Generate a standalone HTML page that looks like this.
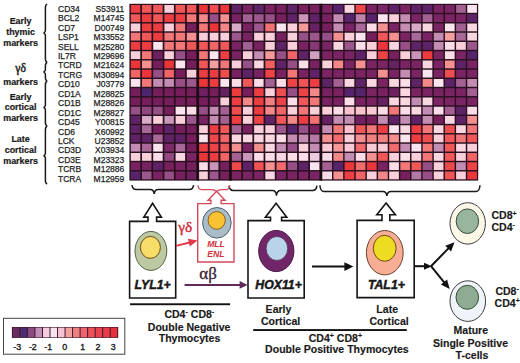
<!DOCTYPE html>
<html><head><meta charset="utf-8"><style>
html,body{margin:0;padding:0;background:#fff;}
body{width:520px;height:363px;overflow:hidden;}
svg{display:block;}
text{font-family:"Liberation Sans",sans-serif;fill:#1a1a1a;}
.g{font-size:8.5px;stroke:#2a2a2a;stroke-width:0.25px;}
.gb{font-size:8.95px;font-weight:bold;stroke:#1a1a1a;stroke-width:0.2px;}
.gr{font-family:"Liberation Serif",serif;font-size:11.6px;stroke:#1a1a1a;stroke-width:0.45px;}
.gk{font-family:"Liberation Serif",serif;font-size:15.3px;stroke:#d02838;stroke-width:0.4px;}
.gk2{font-family:"Liberation Serif",serif;font-size:17px;stroke:#3a1a38;stroke-width:0.3px;}
.bi{font-size:12.3px;font-weight:bold;font-style:italic;stroke:#111;stroke-width:0.45px;}
.ri{font-size:8.6px;font-weight:bold;font-style:italic;fill:#d03040;}
.lb{font-size:10.55px;font-weight:bold;stroke:#1a1a1a;stroke-width:0.15px;}
.sup{font-size:7px;}
.lg{font-size:8.8px;stroke:#1a1a1a;stroke-width:0.35px;}
.br{fill:none;stroke:#1a1a1a;stroke-width:1.5;}
.rbr{fill:none;stroke:#d84856;stroke-width:1.3;}
.bx{fill:#fff;stroke:#151515;stroke-width:1.6;}
.rbx{fill:#fff;stroke:#d24a58;stroke-width:1.4;}
</style></head><body><svg width="520" height="363" viewBox="0 0 520 363">
<text x="58" y="11.80" class="g">CD34</text>
<text x="124.3" y="11.80" class="g" text-anchor="end">S53911</text>
<text x="58" y="21.24" class="g">BCL2</text>
<text x="124.3" y="21.24" class="g" text-anchor="end">M14745</text>
<text x="58" y="30.68" class="g">CD7</text>
<text x="124.3" y="30.68" class="g" text-anchor="end">D00749</text>
<text x="58" y="40.12" class="g">LSP1</text>
<text x="124.3" y="40.12" class="g" text-anchor="end">M33552</text>
<text x="58" y="49.56" class="g">SELL</text>
<text x="124.3" y="49.56" class="g" text-anchor="end">M25280</text>
<text x="58" y="59.00" class="g">IL7R</text>
<text x="124.3" y="59.00" class="g" text-anchor="end">M29696</text>
<text x="58" y="68.44" class="g">TCRD</text>
<text x="124.3" y="68.44" class="g" text-anchor="end">M21624</text>
<text x="58" y="77.88" class="g">TCRG</text>
<text x="124.3" y="77.88" class="g" text-anchor="end">M30894</text>
<text x="58" y="87.32" class="g">CD10</text>
<text x="124.3" y="87.32" class="g" text-anchor="end">J03779</text>
<text x="58" y="96.76" class="g">CD1A</text>
<text x="124.3" y="96.76" class="g" text-anchor="end">M28825</text>
<text x="58" y="106.20" class="g">CD1B</text>
<text x="124.3" y="106.20" class="g" text-anchor="end">M28826</text>
<text x="58" y="115.64" class="g">CD1C</text>
<text x="124.3" y="115.64" class="g" text-anchor="end">M28827</text>
<text x="58" y="125.08" class="g">CD45</text>
<text x="124.3" y="125.08" class="g" text-anchor="end">Y00815</text>
<text x="58" y="134.52" class="g">CD6</text>
<text x="124.3" y="134.52" class="g" text-anchor="end">X60992</text>
<text x="58" y="143.96" class="g">LCK</text>
<text x="124.3" y="143.96" class="g" text-anchor="end">U23852</text>
<text x="58" y="153.40" class="g">CD3D</text>
<text x="124.3" y="153.40" class="g" text-anchor="end">X03934</text>
<text x="58" y="162.84" class="g">CD3E</text>
<text x="124.3" y="162.84" class="g" text-anchor="end">M23323</text>
<text x="58" y="172.28" class="g">TCRB</text>
<text x="124.3" y="172.28" class="g" text-anchor="end">M12886</text>
<text x="58" y="181.72" class="g">TCRA</text>
<text x="124.3" y="181.72" class="g" text-anchor="end">M12959</text>
<text x="20.6" y="24.30" class="gb" text-anchor="middle">Early</text>
<text x="20.6" y="34.80" class="gb" text-anchor="middle">thymic</text>
<text x="20.6" y="45.60" class="gb" text-anchor="middle">markers</text>
<text x="20.6" y="85.40" class="gb" text-anchor="middle">markers</text>
<text x="20.6" y="99.70" class="gb" text-anchor="middle">Early</text>
<text x="20.6" y="110.30" class="gb" text-anchor="middle">cortical</text>
<text x="20.6" y="120.70" class="gb" text-anchor="middle">markers</text>
<text x="20.6" y="142.20" class="gb" text-anchor="middle">Late</text>
<text x="20.6" y="153.00" class="gb" text-anchor="middle">cortical</text>
<text x="20.6" y="163.60" class="gb" text-anchor="middle">markers</text>
<text x="20.6" y="71.6" class="gr" text-anchor="middle">&#947;&#948;</text>
<path d="M 47.2 4.1 C 45.4 4.6 45.4 6.1 45.4 7.6 L 45.4 30.5 C 45.4 32.0 43.9 33.0 43.4 33.0 C 43.9 33.0 45.4 34.0 45.4 35.5 L 45.4 58.7 C 45.4 60.2 45.4 61.7 47.2 62.2" class="br"/>
<path d="M 47.2 62.5 C 45.4 63.0 45.4 64.5 45.4 66.0 L 45.4 69.5 C 45.4 71.0 43.9 72.0 43.4 72.0 C 43.9 72.0 45.4 73.0 45.4 74.5 L 45.4 77.5 C 45.4 79.0 45.4 80.5 47.2 81.0" class="br"/>
<path d="M 47.2 81.2 C 45.4 81.7 45.4 83.2 45.4 84.7 L 45.4 105.1 C 45.4 106.6 43.9 107.6 43.4 107.6 C 43.9 107.6 45.4 108.6 45.4 110.1 L 45.4 122.5 C 45.4 124.0 45.4 125.5 47.2 126.0" class="br"/>
<path d="M 47.2 126.2 C 45.4 126.7 45.4 128.2 45.4 129.7 L 45.4 153.2 C 45.4 154.7 43.9 155.7 43.4 155.7 C 43.9 155.7 45.4 156.7 45.4 158.2 L 45.4 180.4 C 45.4 181.9 45.4 183.4 47.2 183.9" class="br"/>
<rect x="129.4" y="3.8" width="348.8" height="176.8" fill="#2a1020"/>
<rect x="196.30" y="3.8" width="2.80" height="176.8" fill="#1c0c14"/>
<rect x="229.00" y="3.8" width="2.80" height="176.8" fill="#1c0c14"/>
<rect x="319.40" y="3.8" width="2.90" height="176.8" fill="#1c0c14"/>
<rect x="130.80" y="5.00" width="9.50" height="7.80" fill="#ec3e40"/>
<rect x="142.00" y="5.00" width="9.50" height="7.80" fill="#f05858"/>
<rect x="153.20" y="5.00" width="9.50" height="7.80" fill="#f05858"/>
<rect x="164.40" y="5.00" width="9.50" height="7.80" fill="#f9d0da"/>
<rect x="175.60" y="5.00" width="9.50" height="7.80" fill="#f05858"/>
<rect x="186.80" y="5.00" width="9.50" height="7.80" fill="#f05858"/>
<rect x="130.80" y="14.25" width="9.50" height="7.80" fill="#f05858"/>
<rect x="142.00" y="14.25" width="9.50" height="7.80" fill="#ec3e40"/>
<rect x="153.20" y="14.25" width="9.50" height="7.80" fill="#f05858"/>
<rect x="164.40" y="14.25" width="9.50" height="7.80" fill="#ec3e40"/>
<rect x="175.60" y="14.25" width="9.50" height="7.80" fill="#ec3e40"/>
<rect x="186.80" y="14.25" width="9.50" height="7.80" fill="#f27878"/>
<rect x="130.80" y="23.50" width="9.50" height="7.80" fill="#f9d0da"/>
<rect x="142.00" y="23.50" width="9.50" height="7.80" fill="#ec3e40"/>
<rect x="153.20" y="23.50" width="9.50" height="7.80" fill="#ec3e40"/>
<rect x="164.40" y="23.50" width="9.50" height="7.80" fill="#f9d0da"/>
<rect x="175.60" y="23.50" width="9.50" height="7.80" fill="#f27878"/>
<rect x="186.80" y="23.50" width="9.50" height="7.80" fill="#761e5c"/>
<rect x="130.80" y="32.75" width="9.50" height="7.80" fill="#f27878"/>
<rect x="142.00" y="32.75" width="9.50" height="7.80" fill="#f05858"/>
<rect x="153.20" y="32.75" width="9.50" height="7.80" fill="#ec3e40"/>
<rect x="164.40" y="32.75" width="9.50" height="7.80" fill="#f27878"/>
<rect x="175.60" y="32.75" width="9.50" height="7.80" fill="#f27878"/>
<rect x="186.80" y="32.75" width="9.50" height="7.80" fill="#f49090"/>
<rect x="130.80" y="42.00" width="9.50" height="7.80" fill="#ec3e40"/>
<rect x="142.00" y="42.00" width="9.50" height="7.80" fill="#ec3e40"/>
<rect x="153.20" y="42.00" width="9.50" height="7.80" fill="#fae4ee"/>
<rect x="164.40" y="42.00" width="9.50" height="7.80" fill="#f27878"/>
<rect x="175.60" y="42.00" width="9.50" height="7.80" fill="#f27878"/>
<rect x="186.80" y="42.00" width="9.50" height="7.80" fill="#f05858"/>
<rect x="130.80" y="51.25" width="9.50" height="7.80" fill="#f9d0da"/>
<rect x="142.00" y="51.25" width="9.50" height="7.80" fill="#f27878"/>
<rect x="153.20" y="51.25" width="9.50" height="7.80" fill="#6e2060"/>
<rect x="164.40" y="51.25" width="9.50" height="7.80" fill="#f9d0da"/>
<rect x="175.60" y="51.25" width="9.50" height="7.80" fill="#965087"/>
<rect x="186.80" y="51.25" width="9.50" height="7.80" fill="#761e5c"/>
<rect x="130.80" y="60.50" width="9.50" height="7.80" fill="#ea3638"/>
<rect x="142.00" y="60.50" width="9.50" height="7.80" fill="#f49090"/>
<rect x="153.20" y="60.50" width="9.50" height="7.80" fill="#761e5c"/>
<rect x="164.40" y="60.50" width="9.50" height="7.80" fill="#ea3638"/>
<rect x="175.60" y="60.50" width="9.50" height="7.80" fill="#fae4ee"/>
<rect x="186.80" y="60.50" width="9.50" height="7.80" fill="#761e5c"/>
<rect x="130.80" y="69.75" width="9.50" height="7.80" fill="#f16565"/>
<rect x="142.00" y="69.75" width="9.50" height="7.80" fill="#ea3638"/>
<rect x="153.20" y="69.75" width="9.50" height="7.80" fill="#965087"/>
<rect x="164.40" y="69.75" width="9.50" height="7.80" fill="#f16565"/>
<rect x="175.60" y="69.75" width="9.50" height="7.80" fill="#761e5c"/>
<rect x="186.80" y="69.75" width="9.50" height="7.80" fill="#f9d0da"/>
<rect x="130.80" y="79.00" width="9.50" height="7.80" fill="#fae4ee"/>
<rect x="142.00" y="79.00" width="9.50" height="7.80" fill="#f27878"/>
<rect x="153.20" y="79.00" width="9.50" height="7.80" fill="#c28cb3"/>
<rect x="164.40" y="79.00" width="9.50" height="7.80" fill="#c28cb3"/>
<rect x="175.60" y="79.00" width="9.50" height="7.80" fill="#965087"/>
<rect x="186.80" y="79.00" width="9.50" height="7.80" fill="#9c588d"/>
<rect x="130.80" y="88.25" width="9.50" height="7.80" fill="#761e5c"/>
<rect x="142.00" y="88.25" width="9.50" height="7.80" fill="#4e266e"/>
<rect x="153.20" y="88.25" width="9.50" height="7.80" fill="#761e5c"/>
<rect x="164.40" y="88.25" width="9.50" height="7.80" fill="#761e5c"/>
<rect x="175.60" y="88.25" width="9.50" height="7.80" fill="#761e5c"/>
<rect x="186.80" y="88.25" width="9.50" height="7.80" fill="#761e5c"/>
<rect x="130.80" y="97.50" width="9.50" height="7.80" fill="#761e5c"/>
<rect x="142.00" y="97.50" width="9.50" height="7.80" fill="#761e5c"/>
<rect x="153.20" y="97.50" width="9.50" height="7.80" fill="#761e5c"/>
<rect x="164.40" y="97.50" width="9.50" height="7.80" fill="#761e5c"/>
<rect x="175.60" y="97.50" width="9.50" height="7.80" fill="#761e5c"/>
<rect x="186.80" y="97.50" width="9.50" height="7.80" fill="#761e5c"/>
<rect x="130.80" y="106.75" width="9.50" height="7.80" fill="#965087"/>
<rect x="142.00" y="106.75" width="9.50" height="7.80" fill="#914881"/>
<rect x="153.20" y="106.75" width="9.50" height="7.80" fill="#965087"/>
<rect x="164.40" y="106.75" width="9.50" height="7.80" fill="#761e5c"/>
<rect x="175.60" y="106.75" width="9.50" height="7.80" fill="#fae4ee"/>
<rect x="186.80" y="106.75" width="9.50" height="7.80" fill="#fadde7"/>
<rect x="130.80" y="116.00" width="9.50" height="7.80" fill="#5e2367"/>
<rect x="142.00" y="116.00" width="9.50" height="7.80" fill="#d7aac8"/>
<rect x="153.20" y="116.00" width="9.50" height="7.80" fill="#f9d0da"/>
<rect x="164.40" y="116.00" width="9.50" height="7.80" fill="#c996ba"/>
<rect x="175.60" y="116.00" width="9.50" height="7.80" fill="#f9d0da"/>
<rect x="186.80" y="116.00" width="9.50" height="7.80" fill="#9c588d"/>
<rect x="130.80" y="125.25" width="9.50" height="7.80" fill="#5e2367"/>
<rect x="142.00" y="125.25" width="9.50" height="7.80" fill="#a86899"/>
<rect x="153.20" y="125.25" width="9.50" height="7.80" fill="#761e5c"/>
<rect x="164.40" y="125.25" width="9.50" height="7.80" fill="#5e2367"/>
<rect x="175.60" y="125.25" width="9.50" height="7.80" fill="#761e5c"/>
<rect x="186.80" y="125.25" width="9.50" height="7.80" fill="#761e5c"/>
<rect x="130.80" y="134.50" width="9.50" height="7.80" fill="#5e2367"/>
<rect x="142.00" y="134.50" width="9.50" height="7.80" fill="#5e2367"/>
<rect x="153.20" y="134.50" width="9.50" height="7.80" fill="#a86899"/>
<rect x="164.40" y="134.50" width="9.50" height="7.80" fill="#5e2367"/>
<rect x="175.60" y="134.50" width="9.50" height="7.80" fill="#5e2367"/>
<rect x="186.80" y="134.50" width="9.50" height="7.80" fill="#761e5c"/>
<rect x="130.80" y="143.75" width="9.50" height="7.80" fill="#c28cb3"/>
<rect x="142.00" y="143.75" width="9.50" height="7.80" fill="#a86899"/>
<rect x="153.20" y="143.75" width="9.50" height="7.80" fill="#fae4ee"/>
<rect x="164.40" y="143.75" width="9.50" height="7.80" fill="#7c2868"/>
<rect x="175.60" y="143.75" width="9.50" height="7.80" fill="#a86899"/>
<rect x="186.80" y="143.75" width="9.50" height="7.80" fill="#761e5c"/>
<rect x="130.80" y="153.00" width="9.50" height="7.80" fill="#f9d0da"/>
<rect x="142.00" y="153.00" width="9.50" height="7.80" fill="#f9d0da"/>
<rect x="153.20" y="153.00" width="9.50" height="7.80" fill="#fadde7"/>
<rect x="164.40" y="153.00" width="9.50" height="7.80" fill="#914881"/>
<rect x="175.60" y="153.00" width="9.50" height="7.80" fill="#f9d7e1"/>
<rect x="186.80" y="153.00" width="9.50" height="7.80" fill="#7a2463"/>
<rect x="130.80" y="162.25" width="9.50" height="7.80" fill="#782261"/>
<rect x="142.00" y="162.25" width="9.50" height="7.80" fill="#782261"/>
<rect x="153.20" y="162.25" width="9.50" height="7.80" fill="#5e2367"/>
<rect x="164.40" y="162.25" width="9.50" height="7.80" fill="#77205e"/>
<rect x="175.60" y="162.25" width="9.50" height="7.80" fill="#782261"/>
<rect x="186.80" y="162.25" width="9.50" height="7.80" fill="#77205e"/>
<rect x="130.80" y="171.50" width="9.50" height="7.80" fill="#56246a"/>
<rect x="142.00" y="171.50" width="9.50" height="7.80" fill="#9c588d"/>
<rect x="153.20" y="171.50" width="9.50" height="7.80" fill="#782261"/>
<rect x="164.40" y="171.50" width="9.50" height="7.80" fill="#965087"/>
<rect x="175.60" y="171.50" width="9.50" height="7.80" fill="#77205e"/>
<rect x="186.80" y="171.50" width="9.50" height="7.80" fill="#6e2060"/>
<rect x="199.10" y="5.00" width="8.70" height="7.80" fill="#ea3638"/>
<rect x="209.75" y="5.00" width="8.70" height="7.80" fill="#ee4e4e"/>
<rect x="220.40" y="5.00" width="8.70" height="7.80" fill="#ea3638"/>
<rect x="199.10" y="14.25" width="8.70" height="7.80" fill="#f38888"/>
<rect x="209.75" y="14.25" width="8.70" height="7.80" fill="#965087"/>
<rect x="220.40" y="14.25" width="8.70" height="7.80" fill="#f49090"/>
<rect x="199.10" y="23.50" width="8.70" height="7.80" fill="#f27878"/>
<rect x="209.75" y="23.50" width="8.70" height="7.80" fill="#ea3638"/>
<rect x="220.40" y="23.50" width="8.70" height="7.80" fill="#f38888"/>
<rect x="199.10" y="32.75" width="8.70" height="7.80" fill="#f9d0da"/>
<rect x="209.75" y="32.75" width="8.70" height="7.80" fill="#f9d0da"/>
<rect x="220.40" y="32.75" width="8.70" height="7.80" fill="#f9d0da"/>
<rect x="199.10" y="42.00" width="8.70" height="7.80" fill="#f05858"/>
<rect x="209.75" y="42.00" width="8.70" height="7.80" fill="#f16565"/>
<rect x="220.40" y="42.00" width="8.70" height="7.80" fill="#f05858"/>
<rect x="199.10" y="51.25" width="8.70" height="7.80" fill="#f27878"/>
<rect x="209.75" y="51.25" width="8.70" height="7.80" fill="#fae4ee"/>
<rect x="220.40" y="51.25" width="8.70" height="7.80" fill="#ec3e40"/>
<rect x="199.10" y="60.50" width="8.70" height="7.80" fill="#f05858"/>
<rect x="209.75" y="60.50" width="8.70" height="7.80" fill="#f5a0a0"/>
<rect x="220.40" y="60.50" width="8.70" height="7.80" fill="#f27878"/>
<rect x="199.10" y="69.75" width="8.70" height="7.80" fill="#ec3e40"/>
<rect x="209.75" y="69.75" width="8.70" height="7.80" fill="#ec3e40"/>
<rect x="220.40" y="69.75" width="8.70" height="7.80" fill="#ee4e4e"/>
<rect x="199.10" y="79.00" width="8.70" height="7.80" fill="#ea3638"/>
<rect x="209.75" y="79.00" width="8.70" height="7.80" fill="#ec3e40"/>
<rect x="220.40" y="79.00" width="8.70" height="7.80" fill="#fae4ee"/>
<rect x="199.10" y="88.25" width="8.70" height="7.80" fill="#6e2060"/>
<rect x="209.75" y="88.25" width="8.70" height="7.80" fill="#761e5c"/>
<rect x="220.40" y="88.25" width="8.70" height="7.80" fill="#662163"/>
<rect x="199.10" y="97.50" width="8.70" height="7.80" fill="#761e5c"/>
<rect x="209.75" y="97.50" width="8.70" height="7.80" fill="#761e5c"/>
<rect x="220.40" y="97.50" width="8.70" height="7.80" fill="#f9d0da"/>
<rect x="199.10" y="106.75" width="8.70" height="7.80" fill="#965087"/>
<rect x="209.75" y="106.75" width="8.70" height="7.80" fill="#c28cb3"/>
<rect x="220.40" y="106.75" width="8.70" height="7.80" fill="#a26093"/>
<rect x="199.10" y="116.00" width="8.70" height="7.80" fill="#782261"/>
<rect x="209.75" y="116.00" width="8.70" height="7.80" fill="#c28cb3"/>
<rect x="220.40" y="116.00" width="8.70" height="7.80" fill="#a26093"/>
<rect x="199.10" y="125.25" width="8.70" height="7.80" fill="#f9d0da"/>
<rect x="209.75" y="125.25" width="8.70" height="7.80" fill="#ec3e40"/>
<rect x="220.40" y="125.25" width="8.70" height="7.80" fill="#f05858"/>
<rect x="199.10" y="134.50" width="8.70" height="7.80" fill="#fae4ee"/>
<rect x="209.75" y="134.50" width="8.70" height="7.80" fill="#ee484a"/>
<rect x="220.40" y="134.50" width="8.70" height="7.80" fill="#f16565"/>
<rect x="199.10" y="143.75" width="8.70" height="7.80" fill="#ec3e40"/>
<rect x="209.75" y="143.75" width="8.70" height="7.80" fill="#ed4345"/>
<rect x="220.40" y="143.75" width="8.70" height="7.80" fill="#f05858"/>
<rect x="199.10" y="153.00" width="8.70" height="7.80" fill="#ea383a"/>
<rect x="209.75" y="153.00" width="8.70" height="7.80" fill="#ec3e40"/>
<rect x="220.40" y="153.00" width="8.70" height="7.80" fill="#f16565"/>
<rect x="199.10" y="162.25" width="8.70" height="7.80" fill="#fadde7"/>
<rect x="209.75" y="162.25" width="8.70" height="7.80" fill="#c996ba"/>
<rect x="220.40" y="162.25" width="8.70" height="7.80" fill="#77205e"/>
<rect x="199.10" y="171.50" width="8.70" height="7.80" fill="#f9d0da"/>
<rect x="209.75" y="171.50" width="8.70" height="7.80" fill="#9c588d"/>
<rect x="220.40" y="171.50" width="8.70" height="7.80" fill="#77205e"/>
<rect x="231.80" y="5.00" width="9.45" height="7.80" fill="#5e2367"/>
<rect x="242.97" y="5.00" width="9.45" height="7.80" fill="#782261"/>
<rect x="254.14" y="5.00" width="9.45" height="7.80" fill="#5e2367"/>
<rect x="265.31" y="5.00" width="9.45" height="7.80" fill="#782261"/>
<rect x="276.48" y="5.00" width="9.45" height="7.80" fill="#77205e"/>
<rect x="287.65" y="5.00" width="9.45" height="7.80" fill="#5e2367"/>
<rect x="298.82" y="5.00" width="9.45" height="7.80" fill="#77205e"/>
<rect x="309.99" y="5.00" width="9.45" height="7.80" fill="#77205e"/>
<rect x="231.80" y="14.25" width="9.45" height="7.80" fill="#782261"/>
<rect x="242.97" y="14.25" width="9.45" height="7.80" fill="#a26093"/>
<rect x="254.14" y="14.25" width="9.45" height="7.80" fill="#9c588d"/>
<rect x="265.31" y="14.25" width="9.45" height="7.80" fill="#965087"/>
<rect x="276.48" y="14.25" width="9.45" height="7.80" fill="#77205e"/>
<rect x="287.65" y="14.25" width="9.45" height="7.80" fill="#5e2367"/>
<rect x="298.82" y="14.25" width="9.45" height="7.80" fill="#c996ba"/>
<rect x="309.99" y="14.25" width="9.45" height="7.80" fill="#5e2367"/>
<rect x="231.80" y="23.50" width="9.45" height="7.80" fill="#d7aac8"/>
<rect x="242.97" y="23.50" width="9.45" height="7.80" fill="#782261"/>
<rect x="254.14" y="23.50" width="9.45" height="7.80" fill="#9c588d"/>
<rect x="265.31" y="23.50" width="9.45" height="7.80" fill="#f27272"/>
<rect x="276.48" y="23.50" width="9.45" height="7.80" fill="#fae4ee"/>
<rect x="287.65" y="23.50" width="9.45" height="7.80" fill="#f9d0da"/>
<rect x="298.82" y="23.50" width="9.45" height="7.80" fill="#f49898"/>
<rect x="309.99" y="23.50" width="9.45" height="7.80" fill="#662163"/>
<rect x="231.80" y="32.75" width="9.45" height="7.80" fill="#9c588d"/>
<rect x="242.97" y="32.75" width="9.45" height="7.80" fill="#782261"/>
<rect x="254.14" y="32.75" width="9.45" height="7.80" fill="#f9d0da"/>
<rect x="265.31" y="32.75" width="9.45" height="7.80" fill="#f9d0da"/>
<rect x="276.48" y="32.75" width="9.45" height="7.80" fill="#77205e"/>
<rect x="287.65" y="32.75" width="9.45" height="7.80" fill="#f9d0da"/>
<rect x="298.82" y="32.75" width="9.45" height="7.80" fill="#965087"/>
<rect x="309.99" y="32.75" width="9.45" height="7.80" fill="#9c588d"/>
<rect x="231.80" y="42.00" width="9.45" height="7.80" fill="#782261"/>
<rect x="242.97" y="42.00" width="9.45" height="7.80" fill="#a26093"/>
<rect x="254.14" y="42.00" width="9.45" height="7.80" fill="#782261"/>
<rect x="265.31" y="42.00" width="9.45" height="7.80" fill="#f9d0da"/>
<rect x="276.48" y="42.00" width="9.45" height="7.80" fill="#5e2367"/>
<rect x="287.65" y="42.00" width="9.45" height="7.80" fill="#f9d0da"/>
<rect x="298.82" y="42.00" width="9.45" height="7.80" fill="#782261"/>
<rect x="309.99" y="42.00" width="9.45" height="7.80" fill="#863874"/>
<rect x="231.80" y="51.25" width="9.45" height="7.80" fill="#782261"/>
<rect x="242.97" y="51.25" width="9.45" height="7.80" fill="#f9d0da"/>
<rect x="254.14" y="51.25" width="9.45" height="7.80" fill="#c28cb3"/>
<rect x="265.31" y="51.25" width="9.45" height="7.80" fill="#f49898"/>
<rect x="276.48" y="51.25" width="9.45" height="7.80" fill="#965087"/>
<rect x="287.65" y="51.25" width="9.45" height="7.80" fill="#f16565"/>
<rect x="298.82" y="51.25" width="9.45" height="7.80" fill="#5e2367"/>
<rect x="309.99" y="51.25" width="9.45" height="7.80" fill="#d0a0c1"/>
<rect x="231.80" y="60.50" width="9.45" height="7.80" fill="#f9d0da"/>
<rect x="242.97" y="60.50" width="9.45" height="7.80" fill="#965087"/>
<rect x="254.14" y="60.50" width="9.45" height="7.80" fill="#f9d7e1"/>
<rect x="265.31" y="60.50" width="9.45" height="7.80" fill="#f05e5e"/>
<rect x="276.48" y="60.50" width="9.45" height="7.80" fill="#5e2367"/>
<rect x="287.65" y="60.50" width="9.45" height="7.80" fill="#965087"/>
<rect x="298.82" y="60.50" width="9.45" height="7.80" fill="#fadde7"/>
<rect x="309.99" y="60.50" width="9.45" height="7.80" fill="#782261"/>
<rect x="231.80" y="69.75" width="9.45" height="7.80" fill="#782261"/>
<rect x="242.97" y="69.75" width="9.45" height="7.80" fill="#5e2367"/>
<rect x="254.14" y="69.75" width="9.45" height="7.80" fill="#782261"/>
<rect x="265.31" y="69.75" width="9.45" height="7.80" fill="#ed4345"/>
<rect x="276.48" y="69.75" width="9.45" height="7.80" fill="#782261"/>
<rect x="287.65" y="69.75" width="9.45" height="7.80" fill="#f27878"/>
<rect x="298.82" y="69.75" width="9.45" height="7.80" fill="#782261"/>
<rect x="309.99" y="69.75" width="9.45" height="7.80" fill="#5e2367"/>
<rect x="231.80" y="79.00" width="9.45" height="7.80" fill="#fadde7"/>
<rect x="242.97" y="79.00" width="9.45" height="7.80" fill="#f05858"/>
<rect x="254.14" y="79.00" width="9.45" height="7.80" fill="#fadde7"/>
<rect x="265.31" y="79.00" width="9.45" height="7.80" fill="#a26093"/>
<rect x="276.48" y="79.00" width="9.45" height="7.80" fill="#fadde7"/>
<rect x="287.65" y="79.00" width="9.45" height="7.80" fill="#ed4345"/>
<rect x="298.82" y="79.00" width="9.45" height="7.80" fill="#ef5353"/>
<rect x="309.99" y="79.00" width="9.45" height="7.80" fill="#ec3e40"/>
<rect x="231.80" y="88.25" width="9.45" height="7.80" fill="#eb3b3d"/>
<rect x="242.97" y="88.25" width="9.45" height="7.80" fill="#761e5c"/>
<rect x="254.14" y="88.25" width="9.45" height="7.80" fill="#ec3e40"/>
<rect x="265.31" y="88.25" width="9.45" height="7.80" fill="#f9d0da"/>
<rect x="276.48" y="88.25" width="9.45" height="7.80" fill="#ee4e4e"/>
<rect x="287.65" y="88.25" width="9.45" height="7.80" fill="#965087"/>
<rect x="298.82" y="88.25" width="9.45" height="7.80" fill="#ed4345"/>
<rect x="309.99" y="88.25" width="9.45" height="7.80" fill="#f38888"/>
<rect x="231.80" y="97.50" width="9.45" height="7.80" fill="#ec3e40"/>
<rect x="242.97" y="97.50" width="9.45" height="7.80" fill="#f38888"/>
<rect x="254.14" y="97.50" width="9.45" height="7.80" fill="#ec3e40"/>
<rect x="265.31" y="97.50" width="9.45" height="7.80" fill="#f38080"/>
<rect x="276.48" y="97.50" width="9.45" height="7.80" fill="#ed4345"/>
<rect x="287.65" y="97.50" width="9.45" height="7.80" fill="#fadde7"/>
<rect x="298.82" y="97.50" width="9.45" height="7.80" fill="#f05858"/>
<rect x="309.99" y="97.50" width="9.45" height="7.80" fill="#f27878"/>
<rect x="231.80" y="106.75" width="9.45" height="7.80" fill="#ee4e4e"/>
<rect x="242.97" y="106.75" width="9.45" height="7.80" fill="#f9d0da"/>
<rect x="254.14" y="106.75" width="9.45" height="7.80" fill="#ec3e40"/>
<rect x="265.31" y="106.75" width="9.45" height="7.80" fill="#f38888"/>
<rect x="276.48" y="106.75" width="9.45" height="7.80" fill="#f16565"/>
<rect x="287.65" y="106.75" width="9.45" height="7.80" fill="#f9d0da"/>
<rect x="298.82" y="106.75" width="9.45" height="7.80" fill="#f27878"/>
<rect x="309.99" y="106.75" width="9.45" height="7.80" fill="#f9d0da"/>
<rect x="231.80" y="116.00" width="9.45" height="7.80" fill="#ec3e40"/>
<rect x="242.97" y="116.00" width="9.45" height="7.80" fill="#f9d0da"/>
<rect x="254.14" y="116.00" width="9.45" height="7.80" fill="#ed4345"/>
<rect x="265.31" y="116.00" width="9.45" height="7.80" fill="#5e2367"/>
<rect x="276.48" y="116.00" width="9.45" height="7.80" fill="#f05858"/>
<rect x="287.65" y="116.00" width="9.45" height="7.80" fill="#f38888"/>
<rect x="298.82" y="116.00" width="9.45" height="7.80" fill="#ec3e40"/>
<rect x="309.99" y="116.00" width="9.45" height="7.80" fill="#f27272"/>
<rect x="231.80" y="125.25" width="9.45" height="7.80" fill="#a26093"/>
<rect x="242.97" y="125.25" width="9.45" height="7.80" fill="#77205e"/>
<rect x="254.14" y="125.25" width="9.45" height="7.80" fill="#f9d0da"/>
<rect x="265.31" y="125.25" width="9.45" height="7.80" fill="#f9d0da"/>
<rect x="276.48" y="125.25" width="9.45" height="7.80" fill="#9c588d"/>
<rect x="287.65" y="125.25" width="9.45" height="7.80" fill="#56246a"/>
<rect x="298.82" y="125.25" width="9.45" height="7.80" fill="#965087"/>
<rect x="309.99" y="125.25" width="9.45" height="7.80" fill="#782261"/>
<rect x="231.80" y="134.50" width="9.45" height="7.80" fill="#f9d7e1"/>
<rect x="242.97" y="134.50" width="9.45" height="7.80" fill="#f9d7e1"/>
<rect x="254.14" y="134.50" width="9.45" height="7.80" fill="#f9d7e1"/>
<rect x="265.31" y="134.50" width="9.45" height="7.80" fill="#f9d7e1"/>
<rect x="276.48" y="134.50" width="9.45" height="7.80" fill="#fadde7"/>
<rect x="287.65" y="134.50" width="9.45" height="7.80" fill="#c28cb3"/>
<rect x="298.82" y="134.50" width="9.45" height="7.80" fill="#c28cb3"/>
<rect x="309.99" y="134.50" width="9.45" height="7.80" fill="#b478a5"/>
<rect x="231.80" y="143.75" width="9.45" height="7.80" fill="#f49090"/>
<rect x="242.97" y="143.75" width="9.45" height="7.80" fill="#7a2463"/>
<rect x="254.14" y="143.75" width="9.45" height="7.80" fill="#f49090"/>
<rect x="265.31" y="143.75" width="9.45" height="7.80" fill="#f9d7e1"/>
<rect x="276.48" y="143.75" width="9.45" height="7.80" fill="#c28cb3"/>
<rect x="287.65" y="143.75" width="9.45" height="7.80" fill="#965087"/>
<rect x="298.82" y="143.75" width="9.45" height="7.80" fill="#f9d0da"/>
<rect x="309.99" y="143.75" width="9.45" height="7.80" fill="#c28cb3"/>
<rect x="231.80" y="153.00" width="9.45" height="7.80" fill="#a26093"/>
<rect x="242.97" y="153.00" width="9.45" height="7.80" fill="#c996ba"/>
<rect x="254.14" y="153.00" width="9.45" height="7.80" fill="#fadde7"/>
<rect x="265.31" y="153.00" width="9.45" height="7.80" fill="#fadde7"/>
<rect x="276.48" y="153.00" width="9.45" height="7.80" fill="#f9d7e1"/>
<rect x="287.65" y="153.00" width="9.45" height="7.80" fill="#fadde7"/>
<rect x="298.82" y="153.00" width="9.45" height="7.80" fill="#fadde7"/>
<rect x="309.99" y="153.00" width="9.45" height="7.80" fill="#eccddf"/>
<rect x="231.80" y="162.25" width="9.45" height="7.80" fill="#ee484a"/>
<rect x="242.97" y="162.25" width="9.45" height="7.80" fill="#5e2367"/>
<rect x="254.14" y="162.25" width="9.45" height="7.80" fill="#ef5353"/>
<rect x="265.31" y="162.25" width="9.45" height="7.80" fill="#f49090"/>
<rect x="276.48" y="162.25" width="9.45" height="7.80" fill="#f16b6b"/>
<rect x="287.65" y="162.25" width="9.45" height="7.80" fill="#965087"/>
<rect x="298.82" y="162.25" width="9.45" height="7.80" fill="#5e2367"/>
<rect x="309.99" y="162.25" width="9.45" height="7.80" fill="#fae4ee"/>
<rect x="231.80" y="171.50" width="9.45" height="7.80" fill="#7a2463"/>
<rect x="242.97" y="171.50" width="9.45" height="7.80" fill="#7a2463"/>
<rect x="254.14" y="171.50" width="9.45" height="7.80" fill="#7a2463"/>
<rect x="265.31" y="171.50" width="9.45" height="7.80" fill="#f9d7e1"/>
<rect x="276.48" y="171.50" width="9.45" height="7.80" fill="#7a2463"/>
<rect x="287.65" y="171.50" width="9.45" height="7.80" fill="#7a2463"/>
<rect x="298.82" y="171.50" width="9.45" height="7.80" fill="#7a2463"/>
<rect x="309.99" y="171.50" width="9.45" height="7.80" fill="#7a2463"/>
<rect x="322.30" y="5.00" width="9.70" height="7.80" fill="#7a2463"/>
<rect x="333.45" y="5.00" width="9.70" height="7.80" fill="#56246a"/>
<rect x="344.60" y="5.00" width="9.70" height="7.80" fill="#f9d7e1"/>
<rect x="355.75" y="5.00" width="9.70" height="7.80" fill="#ee484a"/>
<rect x="366.90" y="5.00" width="9.70" height="7.80" fill="#7a2463"/>
<rect x="378.05" y="5.00" width="9.70" height="7.80" fill="#7b2666"/>
<rect x="389.20" y="5.00" width="9.70" height="7.80" fill="#5e2367"/>
<rect x="400.35" y="5.00" width="9.70" height="7.80" fill="#7a2463"/>
<rect x="411.50" y="5.00" width="9.70" height="7.80" fill="#5e2367"/>
<rect x="422.65" y="5.00" width="9.70" height="7.80" fill="#5e2367"/>
<rect x="433.80" y="5.00" width="9.70" height="7.80" fill="#7a2463"/>
<rect x="444.95" y="5.00" width="9.70" height="7.80" fill="#7a2463"/>
<rect x="456.10" y="5.00" width="9.70" height="7.80" fill="#a26093"/>
<rect x="467.25" y="5.00" width="9.70" height="7.80" fill="#fae4ee"/>
<rect x="322.30" y="14.25" width="9.70" height="7.80" fill="#782261"/>
<rect x="333.45" y="14.25" width="9.70" height="7.80" fill="#c28cb3"/>
<rect x="344.60" y="14.25" width="9.70" height="7.80" fill="#56246a"/>
<rect x="355.75" y="14.25" width="9.70" height="7.80" fill="#bb82ac"/>
<rect x="366.90" y="14.25" width="9.70" height="7.80" fill="#56246a"/>
<rect x="378.05" y="14.25" width="9.70" height="7.80" fill="#fae4ee"/>
<rect x="389.20" y="14.25" width="9.70" height="7.80" fill="#f9d0da"/>
<rect x="400.35" y="14.25" width="9.70" height="7.80" fill="#c28cb3"/>
<rect x="411.50" y="14.25" width="9.70" height="7.80" fill="#7a2463"/>
<rect x="422.65" y="14.25" width="9.70" height="7.80" fill="#a26093"/>
<rect x="433.80" y="14.25" width="9.70" height="7.80" fill="#7a2463"/>
<rect x="444.95" y="14.25" width="9.70" height="7.80" fill="#7a2463"/>
<rect x="456.10" y="14.25" width="9.70" height="7.80" fill="#7a2463"/>
<rect x="467.25" y="14.25" width="9.70" height="7.80" fill="#5e2367"/>
<rect x="322.30" y="23.50" width="9.70" height="7.80" fill="#761e5c"/>
<rect x="333.45" y="23.50" width="9.70" height="7.80" fill="#c28cb3"/>
<rect x="344.60" y="23.50" width="9.70" height="7.80" fill="#7a2463"/>
<rect x="355.75" y="23.50" width="9.70" height="7.80" fill="#a86899"/>
<rect x="366.90" y="23.50" width="9.70" height="7.80" fill="#fadde7"/>
<rect x="378.05" y="23.50" width="9.70" height="7.80" fill="#f49090"/>
<rect x="389.20" y="23.50" width="9.70" height="7.80" fill="#7a2463"/>
<rect x="400.35" y="23.50" width="9.70" height="7.80" fill="#c28cb3"/>
<rect x="411.50" y="23.50" width="9.70" height="7.80" fill="#d7aac8"/>
<rect x="422.65" y="23.50" width="9.70" height="7.80" fill="#f9d7e1"/>
<rect x="433.80" y="23.50" width="9.70" height="7.80" fill="#7a2463"/>
<rect x="444.95" y="23.50" width="9.70" height="7.80" fill="#fae4ee"/>
<rect x="456.10" y="23.50" width="9.70" height="7.80" fill="#a26093"/>
<rect x="467.25" y="23.50" width="9.70" height="7.80" fill="#f9d7e1"/>
<rect x="322.30" y="32.75" width="9.70" height="7.80" fill="#965087"/>
<rect x="333.45" y="32.75" width="9.70" height="7.80" fill="#f49090"/>
<rect x="344.60" y="32.75" width="9.70" height="7.80" fill="#f9d0da"/>
<rect x="355.75" y="32.75" width="9.70" height="7.80" fill="#fae4ee"/>
<rect x="366.90" y="32.75" width="9.70" height="7.80" fill="#761e5c"/>
<rect x="378.05" y="32.75" width="9.70" height="7.80" fill="#f05858"/>
<rect x="389.20" y="32.75" width="9.70" height="7.80" fill="#f49090"/>
<rect x="400.35" y="32.75" width="9.70" height="7.80" fill="#7a2463"/>
<rect x="411.50" y="32.75" width="9.70" height="7.80" fill="#a86899"/>
<rect x="422.65" y="32.75" width="9.70" height="7.80" fill="#7a2463"/>
<rect x="433.80" y="32.75" width="9.70" height="7.80" fill="#c28cb3"/>
<rect x="444.95" y="32.75" width="9.70" height="7.80" fill="#f5a0a0"/>
<rect x="456.10" y="32.75" width="9.70" height="7.80" fill="#a86899"/>
<rect x="467.25" y="32.75" width="9.70" height="7.80" fill="#f9d7e1"/>
<rect x="322.30" y="42.00" width="9.70" height="7.80" fill="#7a2463"/>
<rect x="333.45" y="42.00" width="9.70" height="7.80" fill="#f9d7e1"/>
<rect x="344.60" y="42.00" width="9.70" height="7.80" fill="#9c588d"/>
<rect x="355.75" y="42.00" width="9.70" height="7.80" fill="#fadde7"/>
<rect x="366.90" y="42.00" width="9.70" height="7.80" fill="#f9d0da"/>
<rect x="378.05" y="42.00" width="9.70" height="7.80" fill="#ea3638"/>
<rect x="389.20" y="42.00" width="9.70" height="7.80" fill="#f9d7e1"/>
<rect x="400.35" y="42.00" width="9.70" height="7.80" fill="#965087"/>
<rect x="411.50" y="42.00" width="9.70" height="7.80" fill="#5e2367"/>
<rect x="422.65" y="42.00" width="9.70" height="7.80" fill="#5e2367"/>
<rect x="433.80" y="42.00" width="9.70" height="7.80" fill="#c28cb3"/>
<rect x="444.95" y="42.00" width="9.70" height="7.80" fill="#fadde7"/>
<rect x="456.10" y="42.00" width="9.70" height="7.80" fill="#f9d0da"/>
<rect x="467.25" y="42.00" width="9.70" height="7.80" fill="#9c588d"/>
<rect x="322.30" y="51.25" width="9.70" height="7.80" fill="#7a2463"/>
<rect x="333.45" y="51.25" width="9.70" height="7.80" fill="#7a2463"/>
<rect x="344.60" y="51.25" width="9.70" height="7.80" fill="#7a2463"/>
<rect x="355.75" y="51.25" width="9.70" height="7.80" fill="#5e2367"/>
<rect x="366.90" y="51.25" width="9.70" height="7.80" fill="#f9d0da"/>
<rect x="378.05" y="51.25" width="9.70" height="7.80" fill="#ed4345"/>
<rect x="389.20" y="51.25" width="9.70" height="7.80" fill="#77205e"/>
<rect x="400.35" y="51.25" width="9.70" height="7.80" fill="#f9d0da"/>
<rect x="411.50" y="51.25" width="9.70" height="7.80" fill="#c996ba"/>
<rect x="422.65" y="51.25" width="9.70" height="7.80" fill="#eb3b3d"/>
<rect x="433.80" y="51.25" width="9.70" height="7.80" fill="#7a2463"/>
<rect x="444.95" y="51.25" width="9.70" height="7.80" fill="#fadde7"/>
<rect x="456.10" y="51.25" width="9.70" height="7.80" fill="#7a2463"/>
<rect x="467.25" y="51.25" width="9.70" height="7.80" fill="#56246a"/>
<rect x="322.30" y="60.50" width="9.70" height="7.80" fill="#f9d0da"/>
<rect x="333.45" y="60.50" width="9.70" height="7.80" fill="#f38888"/>
<rect x="344.60" y="60.50" width="9.70" height="7.80" fill="#7a2463"/>
<rect x="355.75" y="60.50" width="9.70" height="7.80" fill="#f49090"/>
<rect x="366.90" y="60.50" width="9.70" height="7.80" fill="#7a2463"/>
<rect x="378.05" y="60.50" width="9.70" height="7.80" fill="#7a2463"/>
<rect x="389.20" y="60.50" width="9.70" height="7.80" fill="#662163"/>
<rect x="400.35" y="60.50" width="9.70" height="7.80" fill="#7a2463"/>
<rect x="411.50" y="60.50" width="9.70" height="7.80" fill="#7a2463"/>
<rect x="422.65" y="60.50" width="9.70" height="7.80" fill="#f9d7e1"/>
<rect x="433.80" y="60.50" width="9.70" height="7.80" fill="#7a2463"/>
<rect x="444.95" y="60.50" width="9.70" height="7.80" fill="#f49090"/>
<rect x="456.10" y="60.50" width="9.70" height="7.80" fill="#5e2367"/>
<rect x="467.25" y="60.50" width="9.70" height="7.80" fill="#7a2463"/>
<rect x="322.30" y="69.75" width="9.70" height="7.80" fill="#7a2463"/>
<rect x="333.45" y="69.75" width="9.70" height="7.80" fill="#7a2463"/>
<rect x="344.60" y="69.75" width="9.70" height="7.80" fill="#7a2463"/>
<rect x="355.75" y="69.75" width="9.70" height="7.80" fill="#7a2463"/>
<rect x="366.90" y="69.75" width="9.70" height="7.80" fill="#7a2463"/>
<rect x="378.05" y="69.75" width="9.70" height="7.80" fill="#f49090"/>
<rect x="389.20" y="69.75" width="9.70" height="7.80" fill="#7a2463"/>
<rect x="400.35" y="69.75" width="9.70" height="7.80" fill="#c28cb3"/>
<rect x="411.50" y="69.75" width="9.70" height="7.80" fill="#7a2463"/>
<rect x="422.65" y="69.75" width="9.70" height="7.80" fill="#fae4ee"/>
<rect x="433.80" y="69.75" width="9.70" height="7.80" fill="#7a2463"/>
<rect x="444.95" y="69.75" width="9.70" height="7.80" fill="#ee4e4e"/>
<rect x="456.10" y="69.75" width="9.70" height="7.80" fill="#7a2463"/>
<rect x="467.25" y="69.75" width="9.70" height="7.80" fill="#7a2463"/>
<rect x="322.30" y="79.00" width="9.70" height="7.80" fill="#5e2367"/>
<rect x="333.45" y="79.00" width="9.70" height="7.80" fill="#a26093"/>
<rect x="344.60" y="79.00" width="9.70" height="7.80" fill="#f9d7e1"/>
<rect x="355.75" y="79.00" width="9.70" height="7.80" fill="#5e2367"/>
<rect x="366.90" y="79.00" width="9.70" height="7.80" fill="#f9d7e1"/>
<rect x="378.05" y="79.00" width="9.70" height="7.80" fill="#7a2463"/>
<rect x="389.20" y="79.00" width="9.70" height="7.80" fill="#f9d7e1"/>
<rect x="400.35" y="79.00" width="9.70" height="7.80" fill="#fadde7"/>
<rect x="411.50" y="79.00" width="9.70" height="7.80" fill="#5e2367"/>
<rect x="422.65" y="79.00" width="9.70" height="7.80" fill="#f38888"/>
<rect x="433.80" y="79.00" width="9.70" height="7.80" fill="#fae4ee"/>
<rect x="444.95" y="79.00" width="9.70" height="7.80" fill="#5e2367"/>
<rect x="456.10" y="79.00" width="9.70" height="7.80" fill="#a26093"/>
<rect x="467.25" y="79.00" width="9.70" height="7.80" fill="#c28cb3"/>
<rect x="322.30" y="88.25" width="9.70" height="7.80" fill="#782261"/>
<rect x="333.45" y="88.25" width="9.70" height="7.80" fill="#782261"/>
<rect x="344.60" y="88.25" width="9.70" height="7.80" fill="#56246a"/>
<rect x="355.75" y="88.25" width="9.70" height="7.80" fill="#56246a"/>
<rect x="366.90" y="88.25" width="9.70" height="7.80" fill="#7a2463"/>
<rect x="378.05" y="88.25" width="9.70" height="7.80" fill="#782261"/>
<rect x="389.20" y="88.25" width="9.70" height="7.80" fill="#6e2060"/>
<rect x="400.35" y="88.25" width="9.70" height="7.80" fill="#f9d7e1"/>
<rect x="411.50" y="88.25" width="9.70" height="7.80" fill="#7a2463"/>
<rect x="422.65" y="88.25" width="9.70" height="7.80" fill="#7a2463"/>
<rect x="433.80" y="88.25" width="9.70" height="7.80" fill="#7a2463"/>
<rect x="444.95" y="88.25" width="9.70" height="7.80" fill="#7a2463"/>
<rect x="456.10" y="88.25" width="9.70" height="7.80" fill="#7a2463"/>
<rect x="467.25" y="88.25" width="9.70" height="7.80" fill="#a26093"/>
<rect x="322.30" y="97.50" width="9.70" height="7.80" fill="#782261"/>
<rect x="333.45" y="97.50" width="9.70" height="7.80" fill="#782261"/>
<rect x="344.60" y="97.50" width="9.70" height="7.80" fill="#fadde7"/>
<rect x="355.75" y="97.50" width="9.70" height="7.80" fill="#782261"/>
<rect x="366.90" y="97.50" width="9.70" height="7.80" fill="#782261"/>
<rect x="378.05" y="97.50" width="9.70" height="7.80" fill="#662163"/>
<rect x="389.20" y="97.50" width="9.70" height="7.80" fill="#f9d7e1"/>
<rect x="400.35" y="97.50" width="9.70" height="7.80" fill="#f9d7e1"/>
<rect x="411.50" y="97.50" width="9.70" height="7.80" fill="#c28cb3"/>
<rect x="422.65" y="97.50" width="9.70" height="7.80" fill="#f9d7e1"/>
<rect x="433.80" y="97.50" width="9.70" height="7.80" fill="#7a2463"/>
<rect x="444.95" y="97.50" width="9.70" height="7.80" fill="#7a2463"/>
<rect x="456.10" y="97.50" width="9.70" height="7.80" fill="#7a2463"/>
<rect x="467.25" y="97.50" width="9.70" height="7.80" fill="#7a2463"/>
<rect x="322.30" y="106.75" width="9.70" height="7.80" fill="#f9d0da"/>
<rect x="333.45" y="106.75" width="9.70" height="7.80" fill="#fadde7"/>
<rect x="344.60" y="106.75" width="9.70" height="7.80" fill="#f8c3cd"/>
<rect x="355.75" y="106.75" width="9.70" height="7.80" fill="#f8c3cd"/>
<rect x="366.90" y="106.75" width="9.70" height="7.80" fill="#f8cad4"/>
<rect x="378.05" y="106.75" width="9.70" height="7.80" fill="#fadde7"/>
<rect x="389.20" y="106.75" width="9.70" height="7.80" fill="#f27878"/>
<rect x="400.35" y="106.75" width="9.70" height="7.80" fill="#fadde7"/>
<rect x="411.50" y="106.75" width="9.70" height="7.80" fill="#f9d7e1"/>
<rect x="422.65" y="106.75" width="9.70" height="7.80" fill="#c28cb3"/>
<rect x="433.80" y="106.75" width="9.70" height="7.80" fill="#fadde7"/>
<rect x="444.95" y="106.75" width="9.70" height="7.80" fill="#a26093"/>
<rect x="456.10" y="106.75" width="9.70" height="7.80" fill="#5e2367"/>
<rect x="467.25" y="106.75" width="9.70" height="7.80" fill="#fadde7"/>
<rect x="322.30" y="116.00" width="9.70" height="7.80" fill="#662163"/>
<rect x="333.45" y="116.00" width="9.70" height="7.80" fill="#c28cb3"/>
<rect x="344.60" y="116.00" width="9.70" height="7.80" fill="#c28cb3"/>
<rect x="355.75" y="116.00" width="9.70" height="7.80" fill="#6e2060"/>
<rect x="366.90" y="116.00" width="9.70" height="7.80" fill="#761e5c"/>
<rect x="378.05" y="116.00" width="9.70" height="7.80" fill="#c28cb3"/>
<rect x="389.20" y="116.00" width="9.70" height="7.80" fill="#5e2367"/>
<rect x="400.35" y="116.00" width="9.70" height="7.80" fill="#c28cb3"/>
<rect x="411.50" y="116.00" width="9.70" height="7.80" fill="#5e2367"/>
<rect x="422.65" y="116.00" width="9.70" height="7.80" fill="#c28cb3"/>
<rect x="433.80" y="116.00" width="9.70" height="7.80" fill="#761e5c"/>
<rect x="444.95" y="116.00" width="9.70" height="7.80" fill="#f9d7e1"/>
<rect x="456.10" y="116.00" width="9.70" height="7.80" fill="#5e2367"/>
<rect x="467.25" y="116.00" width="9.70" height="7.80" fill="#f49090"/>
<rect x="322.30" y="125.25" width="9.70" height="7.80" fill="#c28cb3"/>
<rect x="333.45" y="125.25" width="9.70" height="7.80" fill="#f27878"/>
<rect x="344.60" y="125.25" width="9.70" height="7.80" fill="#f8c3cd"/>
<rect x="355.75" y="125.25" width="9.70" height="7.80" fill="#f05858"/>
<rect x="366.90" y="125.25" width="9.70" height="7.80" fill="#f27878"/>
<rect x="378.05" y="125.25" width="9.70" height="7.80" fill="#ec3e40"/>
<rect x="389.20" y="125.25" width="9.70" height="7.80" fill="#fae4ee"/>
<rect x="400.35" y="125.25" width="9.70" height="7.80" fill="#f9d7e1"/>
<rect x="411.50" y="125.25" width="9.70" height="7.80" fill="#ec3e40"/>
<rect x="422.65" y="125.25" width="9.70" height="7.80" fill="#f27878"/>
<rect x="433.80" y="125.25" width="9.70" height="7.80" fill="#f9d7e1"/>
<rect x="444.95" y="125.25" width="9.70" height="7.80" fill="#ee4e4e"/>
<rect x="456.10" y="125.25" width="9.70" height="7.80" fill="#f9d7e1"/>
<rect x="467.25" y="125.25" width="9.70" height="7.80" fill="#f27878"/>
<rect x="322.30" y="134.50" width="9.70" height="7.80" fill="#f49090"/>
<rect x="333.45" y="134.50" width="9.70" height="7.80" fill="#f16b6b"/>
<rect x="344.60" y="134.50" width="9.70" height="7.80" fill="#f9d0da"/>
<rect x="355.75" y="134.50" width="9.70" height="7.80" fill="#f49090"/>
<rect x="366.90" y="134.50" width="9.70" height="7.80" fill="#f38080"/>
<rect x="378.05" y="134.50" width="9.70" height="7.80" fill="#f38080"/>
<rect x="389.20" y="134.50" width="9.70" height="7.80" fill="#f49090"/>
<rect x="400.35" y="134.50" width="9.70" height="7.80" fill="#fae4ee"/>
<rect x="411.50" y="134.50" width="9.70" height="7.80" fill="#ec3e40"/>
<rect x="422.65" y="134.50" width="9.70" height="7.80" fill="#ee4e4e"/>
<rect x="433.80" y="134.50" width="9.70" height="7.80" fill="#f9d0da"/>
<rect x="444.95" y="134.50" width="9.70" height="7.80" fill="#f05858"/>
<rect x="456.10" y="134.50" width="9.70" height="7.80" fill="#f27878"/>
<rect x="467.25" y="134.50" width="9.70" height="7.80" fill="#f05858"/>
<rect x="322.30" y="143.75" width="9.70" height="7.80" fill="#f8cad4"/>
<rect x="333.45" y="143.75" width="9.70" height="7.80" fill="#f49898"/>
<rect x="344.60" y="143.75" width="9.70" height="7.80" fill="#f8cad4"/>
<rect x="355.75" y="143.75" width="9.70" height="7.80" fill="#f16b6b"/>
<rect x="366.90" y="143.75" width="9.70" height="7.80" fill="#f8cad4"/>
<rect x="378.05" y="143.75" width="9.70" height="7.80" fill="#f8cad4"/>
<rect x="389.20" y="143.75" width="9.70" height="7.80" fill="#f16b6b"/>
<rect x="400.35" y="143.75" width="9.70" height="7.80" fill="#c28cb3"/>
<rect x="411.50" y="143.75" width="9.70" height="7.80" fill="#fae4ee"/>
<rect x="422.65" y="143.75" width="9.70" height="7.80" fill="#f27878"/>
<rect x="433.80" y="143.75" width="9.70" height="7.80" fill="#c28cb3"/>
<rect x="444.95" y="143.75" width="9.70" height="7.80" fill="#f05858"/>
<rect x="456.10" y="143.75" width="9.70" height="7.80" fill="#f9d7e1"/>
<rect x="467.25" y="143.75" width="9.70" height="7.80" fill="#f9d0da"/>
<rect x="322.30" y="153.00" width="9.70" height="7.80" fill="#fadde7"/>
<rect x="333.45" y="153.00" width="9.70" height="7.80" fill="#f38888"/>
<rect x="344.60" y="153.00" width="9.70" height="7.80" fill="#c28cb3"/>
<rect x="355.75" y="153.00" width="9.70" height="7.80" fill="#fadde7"/>
<rect x="366.90" y="153.00" width="9.70" height="7.80" fill="#f49090"/>
<rect x="378.05" y="153.00" width="9.70" height="7.80" fill="#f05858"/>
<rect x="389.20" y="153.00" width="9.70" height="7.80" fill="#f9d0da"/>
<rect x="400.35" y="153.00" width="9.70" height="7.80" fill="#fadde7"/>
<rect x="411.50" y="153.00" width="9.70" height="7.80" fill="#f9d0da"/>
<rect x="422.65" y="153.00" width="9.70" height="7.80" fill="#f27878"/>
<rect x="433.80" y="153.00" width="9.70" height="7.80" fill="#f9d7e1"/>
<rect x="444.95" y="153.00" width="9.70" height="7.80" fill="#f05858"/>
<rect x="456.10" y="153.00" width="9.70" height="7.80" fill="#f9d0da"/>
<rect x="467.25" y="153.00" width="9.70" height="7.80" fill="#f16565"/>
<rect x="322.30" y="162.25" width="9.70" height="7.80" fill="#a26093"/>
<rect x="333.45" y="162.25" width="9.70" height="7.80" fill="#56246a"/>
<rect x="344.60" y="162.25" width="9.70" height="7.80" fill="#ea383a"/>
<rect x="355.75" y="162.25" width="9.70" height="7.80" fill="#f16b6b"/>
<rect x="366.90" y="162.25" width="9.70" height="7.80" fill="#ea383a"/>
<rect x="378.05" y="162.25" width="9.70" height="7.80" fill="#782261"/>
<rect x="389.20" y="162.25" width="9.70" height="7.80" fill="#fadde7"/>
<rect x="400.35" y="162.25" width="9.70" height="7.80" fill="#f27878"/>
<rect x="411.50" y="162.25" width="9.70" height="7.80" fill="#f05858"/>
<rect x="422.65" y="162.25" width="9.70" height="7.80" fill="#965087"/>
<rect x="433.80" y="162.25" width="9.70" height="7.80" fill="#f9d0da"/>
<rect x="444.95" y="162.25" width="9.70" height="7.80" fill="#ee484a"/>
<rect x="456.10" y="162.25" width="9.70" height="7.80" fill="#c28cb3"/>
<rect x="467.25" y="162.25" width="9.70" height="7.80" fill="#ed4345"/>
<rect x="322.30" y="171.50" width="9.70" height="7.80" fill="#fadde7"/>
<rect x="333.45" y="171.50" width="9.70" height="7.80" fill="#f49090"/>
<rect x="344.60" y="171.50" width="9.70" height="7.80" fill="#ec3e40"/>
<rect x="355.75" y="171.50" width="9.70" height="7.80" fill="#f16565"/>
<rect x="366.90" y="171.50" width="9.70" height="7.80" fill="#f9d0da"/>
<rect x="378.05" y="171.50" width="9.70" height="7.80" fill="#f38888"/>
<rect x="389.20" y="171.50" width="9.70" height="7.80" fill="#f9d0da"/>
<rect x="400.35" y="171.50" width="9.70" height="7.80" fill="#77205e"/>
<rect x="411.50" y="171.50" width="9.70" height="7.80" fill="#b478a5"/>
<rect x="422.65" y="171.50" width="9.70" height="7.80" fill="#965087"/>
<rect x="433.80" y="171.50" width="9.70" height="7.80" fill="#f9d0da"/>
<rect x="444.95" y="171.50" width="9.70" height="7.80" fill="#ef5353"/>
<rect x="456.10" y="171.50" width="9.70" height="7.80" fill="#f9d0da"/>
<rect x="467.25" y="171.50" width="9.70" height="7.80" fill="#ea383a"/>
<path d="M 132.0 185.1 C 132.3 187.4 133.5 189.4 136.0 189.4 L 150.2 189.4 C 152.7 189.4 153.9 190.9 154.2 194.0 C 154.5 190.9 155.7 189.4 158.2 189.4 L 189.6 189.4 C 192.1 189.4 193.3 187.4 193.6 185.1" class="br"/>
<path d="M 229.0 185.7 C 229.3 188.5 230.5 190.5 233.0 190.5 L 272.5 190.5 C 275.0 190.5 276.2 192.0 276.5 195.8 C 276.8 192.0 278.0 190.5 280.5 190.5 L 312.9 190.5 C 315.4 190.5 316.6 188.5 316.9 185.7" class="br"/>
<path d="M 319.9 185.2 C 320.2 189.4 321.4 191.4 323.9 191.4 L 382.9 191.4 C 385.4 191.4 386.6 192.9 386.9 196.0 C 387.2 192.9 388.4 191.4 390.9 191.4 L 476.0 191.4 C 478.5 191.4 479.7 189.4 480.0 185.2" class="br"/>
<path d="M 197.9 185.3 C 198.1 188.2 199.0 189.6 201.5 189.6 L 211.5 189.6 C 214.0 189.6 215.5 190.2 216.7 191.6 C 217.9 190.2 219.4 189.6 222.0 189.6 L 226.3 189.6 C 228.6 189.6 229.5 188.2 229.7 185.3" class="rbr"/>
<path d="M 129.6 221.4 L 148.0 221.4 L 148.0 217.1 L 143.8 217.1 L 152.6 203.3 L 161.4 217.1 L 156.6 217.1 L 156.6 221.4 L 175.7 221.4 L 175.7 298.0 L 129.6 298.0 Z" class="bx"/>
<path d="M 248.0 220.6 L 270.5 220.6 L 270.5 217.2 L 265.4 217.2 L 276.1 203.3 L 286.8 217.2 L 281.6 217.2 L 281.6 220.6 L 304.2 220.6 L 304.2 298.0 L 248.0 298.0 Z" class="bx"/>
<path d="M 357.1 220.4 L 382.0 220.4 L 382.0 214.7 L 376.8 214.7 L 386.1 203.1 L 395.4 214.7 L 389.8 214.7 L 389.8 220.4 L 414.2 220.4 L 414.2 297.6 L 357.1 297.6 Z" class="bx"/>
<path d="M 197.7 203.6 L 210.9 203.6 L 210.9 200.3 L 208.0 200.3 L 216.6 191.3 L 225.0 200.3 L 221.1 200.3 L 221.1 203.6 L 234.0 203.6 L 234.0 262.0 L 197.7 262.0 Z" class="rbx"/>
<ellipse cx="150.9" cy="250.9" rx="15.9" ry="19.5" fill="#bcc9a3" stroke="#556048" stroke-width="1"/>
<ellipse cx="150.4" cy="247.4" rx="10.0" ry="11.0" fill="#f8dc68" stroke="#6a4a18" stroke-width="1"/>
<ellipse cx="216.9" cy="222.8" rx="14.3" ry="15.3" fill="#a9bcc8" stroke="#4e5e6c" stroke-width="1"/>
<ellipse cx="216.7" cy="220.4" rx="8.6" ry="8.9" fill="#f8c232" stroke="#8a6020" stroke-width="1"/>
<ellipse cx="276.3" cy="251.0" rx="17.6" ry="20.6" fill="#702668" stroke="#4a1848" stroke-width="1"/>
<ellipse cx="276.9" cy="248.5" rx="10.8" ry="12.0" fill="#b9d3ea" stroke="#503050" stroke-width="0.8"/>
<ellipse cx="384.8" cy="252.7" rx="18.4" ry="22.2" fill="#f7ae94" stroke="#6a4030" stroke-width="1"/>
<ellipse cx="384.7" cy="248.3" rx="11.4" ry="13.0" fill="#eedc22" stroke="#6a4a18" stroke-width="1"/>
<ellipse cx="467.7" cy="223.4" rx="17.7" ry="20.7" fill="#fcf7e6" stroke="#3c3c3c" stroke-width="1"/>
<ellipse cx="467.4" cy="221.2" rx="11.2" ry="12.3" fill="#98b69e" stroke="#3c4c3c" stroke-width="1"/>
<ellipse cx="467.8" cy="301.1" rx="17.8" ry="20.3" fill="#eef4fa" stroke="#3c3c3c" stroke-width="1"/>
<ellipse cx="467.3" cy="297.3" rx="11.3" ry="12.0" fill="#8eac92" stroke="#3c4c3c" stroke-width="1"/>
<line x1="176.0" y1="245.8" x2="189.8" y2="242.5" stroke="#e23a48" stroke-width="1.8"/><polygon points="197.6,240.6 189.8,246.6 187.9,238.8" fill="#e23a48"/>
<line x1="184.6" y1="284.9" x2="240.6" y2="284.9" stroke="#5e2a5c" stroke-width="2.0"/><polygon points="247.6,284.9 239.6,288.7 239.6,281.1" fill="#5e2a5c"/>
<line x1="312.0" y1="266.6" x2="345.4" y2="266.6" stroke="#111" stroke-width="2.0"/><polygon points="353.4,266.6 344.4,271.0 344.4,262.2" fill="#111"/>
<line x1="414.2" y1="266.2" x2="425.0" y2="266.2" stroke="#111" stroke-width="2.0"/><polygon points="432.0,266.2 424.0,269.7 424.0,262.7" fill="#111"/>
<line x1="431.0" y1="266.2" x2="448.9" y2="247.9" stroke="#111" stroke-width="2.0"/><polygon points="454.5,242.2 451.1,251.4 445.3,245.8" fill="#111"/>
<line x1="431.0" y1="266.2" x2="444.6" y2="282.8" stroke="#111" stroke-width="2.0"/><polygon points="449.7,289.0 440.9,284.6 447.1,279.5" fill="#111"/>
<text x="152.6" y="288.7" class="bi" text-anchor="middle">LYL1+</text>
<text x="278.6" y="288.8" class="bi" text-anchor="middle">HOX11+</text>
<text x="386.4" y="288.9" class="bi" text-anchor="middle">TAL1+</text>
<text x="216.0" y="246.8" class="ri" text-anchor="middle">MLL</text>
<text x="215.8" y="257.0" class="ri" text-anchor="middle">ENL</text>
<text x="185.3" y="231.8" class="gk" style="fill:#d02838" text-anchor="middle">&#947;&#948;</text>
<text x="208.0" y="279.0" class="gk2" style="fill:#3a1a38" text-anchor="middle">&#945;&#946;</text>
<rect x="130.1" y="303.3" width="100" height="1.9" fill="#111"/>
<rect x="253.2" y="329.1" width="153.6" height="1.9" fill="#111"/>
<text x="189.3" y="318.1" class="lb" text-anchor="middle">CD4<tspan class="sup" dy="-3.8">-</tspan><tspan dy="3.8"> CD8</tspan><tspan class="sup" dy="-3.8">-</tspan></text>
<text x="189.1" y="330.6" class="lb" text-anchor="middle">Double Negative</text>
<text x="189.5" y="342.3" class="lb" text-anchor="middle">Thymocytes</text>
<text x="278.5" y="312.7" class="lb" text-anchor="middle">Early</text>
<text x="280.6" y="324.8" class="lb" text-anchor="middle">Cortical</text>
<text x="387.2" y="312.7" class="lb" text-anchor="middle">Late</text>
<text x="389.1" y="324.8" class="lb" text-anchor="middle">Cortical</text>
<text x="335.4" y="342.1" class="lb" text-anchor="middle">CD4<tspan class="sup" dy="-3.8">+</tspan><tspan dy="3.8"> CD8</tspan><tspan class="sup" dy="-3.8">+</tspan></text>
<text x="336.9" y="352.9" class="lb" text-anchor="middle">Double Positive Thymocytes</text>
<text x="470.8" y="334.2" class="lb" text-anchor="middle">Mature</text>
<text x="470.5" y="346.7" class="lb" text-anchor="middle">Single Positive</text>
<text x="472.0" y="358.8" class="lb" text-anchor="middle">T-cells</text>
<text x="491.5" y="219.3" class="lb">CD8<tspan class="sup" dy="-3.8">+</tspan></text>
<text x="491.5" y="231.2" class="lb">CD4<tspan class="sup" dy="-3.8">-</tspan></text>
<text x="495.4" y="294.6" class="lb">CD8<tspan class="sup" dy="-3.8">-</tspan></text>
<text x="494.6" y="307.2" class="lb">CD4<tspan class="sup" dy="-3.8">+</tspan></text>
<rect x="3.5" y="318.3" width="121.3" height="35.9" fill="#fff" stroke="#444" stroke-width="1"/>
<rect x="11.9" y="327.0" width="106.3" height="10.9" fill="#3a1a2a"/>
<rect x="12.90" y="327.6" width="6.52" height="9.7" fill="#6a2a62"/>
<rect x="20.42" y="327.6" width="6.52" height="9.7" fill="#4c2c70"/>
<rect x="27.94" y="327.6" width="6.52" height="9.7" fill="#8a4a84"/>
<rect x="35.46" y="327.6" width="6.52" height="9.7" fill="#c090b8"/>
<rect x="42.99" y="327.6" width="6.52" height="9.7" fill="#f4cce0"/>
<rect x="50.51" y="327.6" width="6.52" height="9.7" fill="#f8e4ee"/>
<rect x="58.03" y="327.6" width="6.52" height="9.7" fill="#f4c4d4"/>
<rect x="65.55" y="327.6" width="6.52" height="9.7" fill="#f4a0a0"/>
<rect x="73.07" y="327.6" width="6.52" height="9.7" fill="#f08080"/>
<rect x="80.59" y="327.6" width="6.52" height="9.7" fill="#f06470"/>
<rect x="88.11" y="327.6" width="6.52" height="9.7" fill="#ec5058"/>
<rect x="95.64" y="327.6" width="6.52" height="9.7" fill="#e84450"/>
<rect x="103.16" y="327.6" width="6.52" height="9.7" fill="#e83c48"/>
<rect x="110.68" y="327.6" width="6.52" height="9.7" fill="#e63040"/>
<text x="17.2" y="350.4" class="lg" text-anchor="middle">-3</text>
<text x="32.8" y="350.4" class="lg" text-anchor="middle">-2</text>
<text x="48.2" y="350.4" class="lg" text-anchor="middle">-1</text>
<text x="64.6" y="350.4" class="lg" text-anchor="middle">0</text>
<text x="82.6" y="350.4" class="lg" text-anchor="middle">1</text>
<text x="98.0" y="350.4" class="lg" text-anchor="middle">2</text>
<text x="113.3" y="350.4" class="lg" text-anchor="middle">3</text>
</svg></body></html>
